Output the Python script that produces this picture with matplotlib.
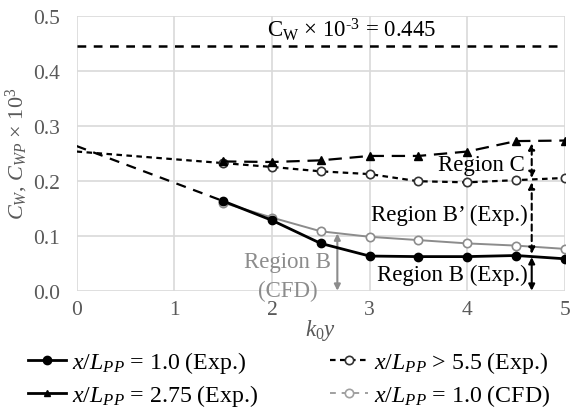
import matplotlib
matplotlib.use("Agg")
import matplotlib.pyplot as plt
from matplotlib.lines import Line2D

plt.rcParams['font.family'] = ['Liberation Serif', 'DejaVu Serif']
plt.rcParams['mathtext.fontset'] = 'custom'
plt.rcParams['mathtext.rm'] = 'Liberation Serif'
plt.rcParams['mathtext.it'] = 'Liberation Serif:italic'

# data
k0y = [1.5, 2.0, 2.5, 3.0, 3.5, 4.0, 4.5, 5.0]
exp_1_0 = [0.163, 0.128, 0.086, 0.063, 0.062, 0.062, 0.064, 0.058]
exp_2_75 = [0.235, 0.234, 0.237, 0.245, 0.245, 0.253, 0.272, 0.273]
exp_5_5 = [0.232, 0.225, 0.217, 0.212, 0.199, 0.197, 0.201, 0.205]
cfd_1_0 = [0.160, 0.133, 0.108, 0.098, 0.092, 0.086, 0.082, 0.076]
ext_x = [0.0, 1.5]
ext_1_0 = [0.263, 0.163]
ext_5_5 = [0.253, 0.232]
cw_value = 0.445
xticks = [0, 1, 2, 3, 4, 5]
yticks = [0.0, 0.1, 0.2, 0.3, 0.4, 0.5]
region_x = 4.66
region_b_cfd_x = 2.67

gray = '#8c8c8c'
tickgray = '#595959'
fs = 16.5

fig = plt.figure(figsize=(5.8, 4.14), dpi=100)
ax = fig.add_axes([0.132, 0.2954, 0.842, 0.6643])

ax.set_xlim(0, 5)
ax.set_ylim(0, 0.5)
ax.set_xticks(xticks)
ax.set_yticks(yticks)
ax.set_yticklabels([f"{v:.1f}" for v in yticks])
ax.grid(True, color='#d9d9d9', linewidth=1.2)
ax.set_axisbelow(True)
for s in ax.spines.values():
    s.set_visible(False)
ax.tick_params(length=0, colors=tickgray, labelsize=15.5)
ax.tick_params(axis='y', pad=12)
ax.tick_params(axis='x', pad=7)

# C_W line
ax.axhline(cw_value, color='black', lw=1.8, dashes=(3.5, 3))
ax.text(2.82, cw_value + 0.007, r"C$_\mathrm{W}$ × 10$^{\text{-}3}$ = 0.445", ha='center', va='bottom',
        fontsize=fs)

# extrapolation lines
ax.plot(ext_x, ext_1_0, color='black', lw=1.6, dashes=(4.5, 3.5))
ax.plot(ext_x, ext_5_5, color='black', lw=1.6, dashes=(2.5, 2))

# series
ax.plot(k0y, cfd_1_0, color=gray, lw=1.4, marker='o', mfc='white', mec=gray, ms=6, mew=1.2, zorder=3)
ax.plot(k0y, exp_5_5, color='black', lw=1.6, dashes=(2.5, 2), marker='o', mfc='white', mec='#333333',
        ms=6, mew=1.2, zorder=4)
ax.plot(k0y, exp_2_75, color='black', lw=1.6, dashes=(6, 3.5), marker='^', mfc='black', mec='black',
        ms=6, zorder=4)
ax.plot(k0y, exp_1_0, color='black', lw=2.0, marker='o', mfc='black', mec='black', ms=6, zorder=5)

# region arrows
arr = dict(arrowstyle='<|-|>', color='black', lw=1.5, mutation_scale=9, shrinkA=0, shrinkB=0)
ax.annotate('', xy=(region_x, exp_2_75[6] - 0.004), xytext=(region_x, exp_5_5[6] + 0.004),
            arrowprops=dict(arr, linestyle=(0, (3, 2))))
ax.annotate('', xy=(region_x, exp_5_5[6] - 0.004), xytext=(region_x, exp_1_0[6] + 0.003),
            arrowprops=dict(arr, linestyle=(0, (3, 2))))
ax.annotate('', xy=(region_x, exp_1_0[6] - 0.003), xytext=(region_x, 0.0),
            arrowprops=arr)
ax.annotate('', xy=(region_b_cfd_x, 0.104), xytext=(region_b_cfd_x, 0.0),
            arrowprops=dict(arr, color=gray))

ax.text(4.14, 0.229, "Region C", ha='center', va='center', fontsize=fs)
ax.text(3.82, 0.139, "Region B’ (Exp.)", ha='center', va='center', fontsize=fs)
ax.text(3.85, 0.030, "Region B (Exp.)", ha='center', va='center', fontsize=fs)
ax.text(2.16, 0.054, "Region B", ha='center', va='center', fontsize=fs, color=gray)
ax.text(2.16, 0.0, "(CFD)", ha='center', va='center', fontsize=fs, color=gray)

ax.set_xlabel(r"$k_0y$", color=tickgray, fontsize=fs, labelpad=-2)
ax.set_ylabel(r"$C_W$, $C_{WP}$ × 10$^3$", color=tickgray, fontsize=16, labelpad=2)

handles = [
    Line2D([], [], color='black', lw=2.0, marker='o', mfc='black', mec='black', ms=6),
    Line2D([], [], color='black', lw=2.0, marker='^', mfc='black', mec='black', ms=5),
    Line2D([], [], color='black', lw=1.6, dashes=(2.5, 2), marker='o', mfc='white', mec='#333333', ms=6, mew=1.2),
    Line2D([], [], color='#a0a0a0', lw=1.4, dashes=(3, 3), marker='o', mfc='white', mec='#a0a0a0', ms=6, mew=1.2),
]
labels = [
    r"$x$/$L_{PP}$ = 1.0 (Exp.)",
    r"$x$/$L_{PP}$ = 2.75 (Exp.)",
    r"$x$/$L_{PP}$ > 5.5 (Exp.)",
    r"$x$/$L_{PP}$ = 1.0 (CFD)",
]
fig.legend(handles, labels, loc='upper left', bbox_to_anchor=(28 / 580, 1 - 350 / 414), ncol=2, frameon=False,
           fontsize=17.2, handlelength=1.6, columnspacing=3.0, handletextpad=0.25, labelspacing=0.3,
           borderpad=0, borderaxespad=0)

fig.savefig("out.png", dpi=100)
